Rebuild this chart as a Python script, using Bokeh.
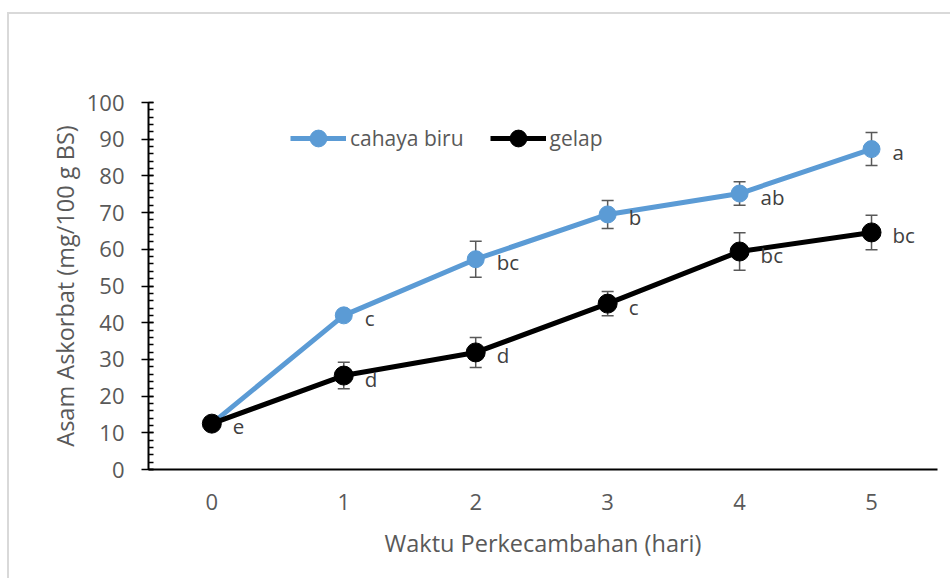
from bokeh.plotting import figure
from bokeh.models import (ColumnDataSource, Whisker, TeeHead, SingleIntervalTicker,
                          FixedTicker, Legend, LegendItem, Range1d)
from bokeh.core.properties import value
from bokeh.embed import file_html
from bokeh.resources import INLINE

days = [0, 1, 2, 3, 4, 5]
blue_vals = [12.5, 42.0, 57.3, 69.5, 75.2, 87.3]
blue_err = [1.0, 1.3, 4.9, 3.8, 3.2, 4.5]
blue_labels = ["", "c", "bc", "b", "ab", "a"]
dark_vals = [12.5, 25.6, 31.9, 45.2, 59.4, 64.6]
dark_err = [1.0, 3.6, 4.1, 3.3, 5.1, 4.7]
dark_labels = ["e", "d", "d", "c", "bc", "bc"]
series_names = ["cahaya biru", "gelap"]

FONT = "Open Sans"
GREY = "#595959"
BLUE = "#5B9BD5"

p = figure(width=943, height=566, output_backend="svg", toolbar_location=None,
           x_range=Range1d(-0.48, 5.5), y_range=Range1d(0, 100),
           min_border_left=139, min_border_right=15, min_border_top=88, min_border_bottom=111)
p.outline_line_color = None
p.xgrid.visible = False
p.ygrid.visible = False
p.styles = {"border-top": "2px solid #d9d9d9", "border-left": "2px solid #d9d9d9",
            "margin-top": "12px", "margin-left": "7px"}

def src(vals, err, labels):
    return ColumnDataSource(dict(x=days, y=vals,
                                 up=[v + e for v, e in zip(vals, err)],
                                 lo=[v - e for v, e in zip(vals, err)],
                                 lab=labels))

sb = src(blue_vals, blue_err, blue_labels)
sd = src(dark_vals, dark_err, dark_labels)

for s in (sb, sd):
    w = Whisker(source=s, base="x", upper="up", lower="lo", line_color=GREY, line_width=1.5,
                upper_head=TeeHead(size=12, line_color=GREY, line_width=1.5),
                lower_head=TeeHead(size=12, line_color=GREY, line_width=1.5))
    p.add_layout(w)

lb = p.line("x", "y", source=sb, line_color=BLUE, line_width=5)
mb = p.scatter("x", "y", source=sb, size=17, fill_color=BLUE, line_color=BLUE)
ld = p.line("x", "y", source=sd, line_color="black", line_width=5)
md = p.scatter("x", "y", source=sd, size=19, fill_color="black", line_color="black")

for s in (sb, sd):
    p.text("x", "y", text="lab", source=s, x_offset=21, y_offset=3,
           text_font=value(FONT), text_font_size="20.5px", text_color="#404040",
           text_baseline="middle", text_align="left")

legend = Legend(items=[LegendItem(label=series_names[0], renderers=[lb, mb]),
                       LegendItem(label=series_names[1], renderers=[ld, md])],
                orientation="horizontal", location=(142, 310),
                glyph_width=56, glyph_height=42, label_standoff=4, spacing=26,
                padding=0, margin=0, border_line_color=None, background_fill_alpha=0,
                label_text_font=FONT, label_text_font_size="21px", label_text_color=GREY)
p.add_layout(legend, "center")

# y axis
ya = p.yaxis[0]
ya.ticker = SingleIntervalTicker(interval=10, num_minor_ticks=5)
ya.axis_line_width = 2
ya.axis_line_color = "black"
ya.major_tick_line_color = "black"
ya.major_tick_line_width = 1.5
ya.minor_tick_line_color = "black"
ya.minor_tick_line_width = 1.5
ya.major_tick_in = 5
ya.major_tick_out = 7
ya.minor_tick_in = 5
ya.minor_tick_out = 0
ya.major_label_standoff = 17
ya.major_label_text_font = FONT
ya.major_label_text_font_size = "22px"
ya.major_label_text_color = GREY
ya.axis_label = "Asam Askorbat (mg/100 g BS)"
ya.axis_label_text_font = FONT
ya.axis_label_text_font_size = "23.5px"
ya.axis_label_text_font_style = "normal"
ya.axis_label_text_color = GREY
ya.axis_label_standoff = 3

# x axis
xa = p.xaxis[0]
xa.ticker = FixedTicker(ticks=days)
xa.axis_line_width = 2
xa.axis_line_color = "black"
xa.major_tick_line_color = None
xa.minor_tick_line_color = None
xa.major_tick_in = 0
xa.major_tick_out = 0
xa.major_label_standoff = 24
xa.major_label_text_font = FONT
xa.major_label_text_font_size = "22px"
xa.major_label_text_color = GREY
xa.axis_label = "Waktu Perkecambahan (hari)"
xa.axis_label_text_font = FONT
xa.axis_label_text_font_size = "23.5px"
xa.axis_label_text_font_style = "normal"
xa.axis_label_text_color = GREY
xa.axis_label_standoff = 14

open("out.html", "w").write(file_html(p, INLINE))
